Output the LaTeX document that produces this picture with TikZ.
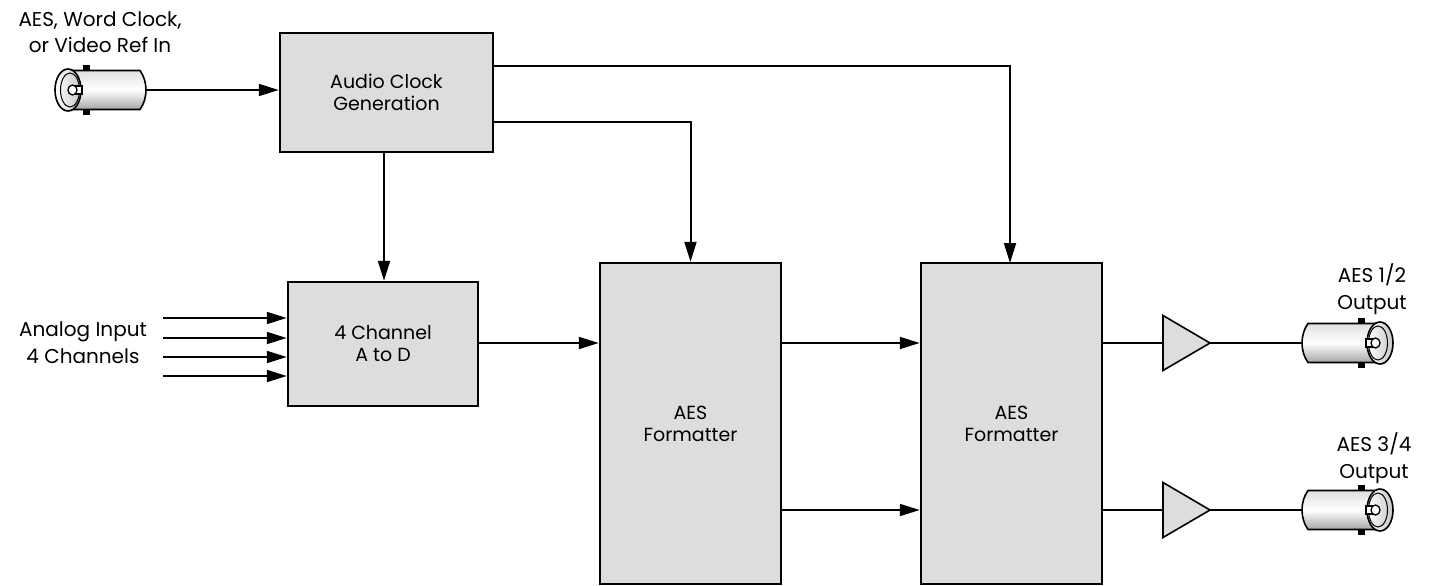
\documentclass[tikz,border=0pt]{standalone}
\usepackage{fontspec}
\setmainfont{Poppins}
\usetikzlibrary{arrows.meta}
\definecolor{boxgray}{HTML}{DCDDDF}
\tikzset{
  pics/bnc/.style={code={
    \coordinate (-end) at (0,0);
    \fill[black] (-63,-25) rectangle (-56,25);
    \draw[line width=1.6pt,top color=gray!25,bottom color=gray!70,middle color=white]
      (-78,-19.5) -- (-6,-19.5) .. controls (-2,-14) and (0,-7) .. (0,0)
      .. controls (0,7) and (-2,14) .. (-6,19.5) -- (-78,19.5) -- cycle;
    \draw[line width=1.6pt,left color=white,right color=gray!45] (-78,0) ellipse (13 and 21);
    \draw[line width=1pt] (-76,0) ellipse (9.5 and 17);
    \draw[line width=1.3pt,fill=white] (-73,-4) rectangle (-64,4);
    \draw[line width=1.3pt,fill=white] (-73.5,0) ellipse (4.5 and 5);
  }}
}
\begin{document}
\begin{tikzpicture}[x=1pt,y=-1pt,
  blk/.style={draw=black,line width=2.5pt,fill=boxgray,inner sep=0,align=center,
              font=\fontsize{19}{22}\selectfont},
  lbl/.style={align=center,inner sep=0,font=\fontsize{20}{27}\selectfont},
  conn/.style={line width=2pt},
  arr/.style={conn,-{Triangle[length=20pt,width=12pt]}},
  ampst/.style={draw=black,line width=1.6pt,fill=boxgray,line join=miter}
]
\useasboundingbox (0,0) rectangle (1435,586);

% blocks
\node[blk,minimum width=213pt,minimum height=119pt] (acg) at (386.5,92.5) {Audio Clock\\Generation};
\node[blk,minimum width=190pt,minimum height=124pt] (ad) at (383,344) {4 Channel\\A to D};
\node[blk,minimum width=181pt,minimum height=321pt] (f1) at (690.5,423.5) {AES\\Formatter};
\node[blk,minimum width=181pt,minimum height=321pt] (f2) at (1011.5,423.5) {AES\\Formatter};

% labels (anchor base = baseline of last line)
\node[lbl,anchor=base] (lin) at (100,53) {AES, Word Clock,\\or Video Ref In};
\node[lbl,anchor=base] (lan) at (83,363) {Analog Input\\4 Channels};
\node[lbl,anchor=base] (lo1) at (1372,309) {AES 1/2\\Output};
\node[lbl,anchor=base] (lo2) at (1374,478) {AES 3/4\\Output};

% connectors
\pic (bin) at (146,90) {bnc};
\pic[xscale=-1] (bo1) at (1302,343) {bnc};
\pic[xscale=-1] (bo2) at (1302,510) {bnc};

\draw[arr] (bin-end) -- (acg.west |- bin-end);

\coordinate (t1) at (493,66);
\coordinate (t2) at (493,122);
\coordinate (t3) at (384,152);
\draw[arr] (t1) -| (1010,263);
\draw[arr] (t2) -| (f1.north);
\draw[arr] (t3) -- (t3 |- ad.north);

\foreach \yy/\nm in {318/a,338/b,357/c,376/d}{
  \coordinate (in\nm) at (163,\yy);
  \draw[arr] (in\nm) -- (in\nm -| ad.west);
}

\coordinate (m1) at (478,343);
\draw[arr] (m1) -- (m1 -| f1.west);
\coordinate (m2) at (781,343);
\coordinate (m3) at (781,510);
\draw[arr] (m2) -- (m2 -| f2.west);
\draw[arr] (m3) -- (m3 -| f2.west);

% amplifiers
\coordinate (a1in) at (1163,343);
\coordinate (a1out) at (1210,343);
\coordinate (a2in) at (1163,510);
\coordinate (a2out) at (1210,510);
\draw[conn] (f2.east |- a1in) -- (a1in);
\draw[conn] (f2.east |- a2in) -- (a2in);
\draw[ampst] (a1out) -- ([yshift=27.5pt]a1in) -- ([yshift=-27.5pt]a1in) -- cycle;
\draw[ampst] (a2out) -- ([yshift=27.5pt]a2in) -- ([yshift=-27.5pt]a2in) -- cycle;
\draw[conn] (a1out) -- (bo1-end);
\draw[conn] (a2out) -- (bo2-end);
\end{tikzpicture}
\end{document}
